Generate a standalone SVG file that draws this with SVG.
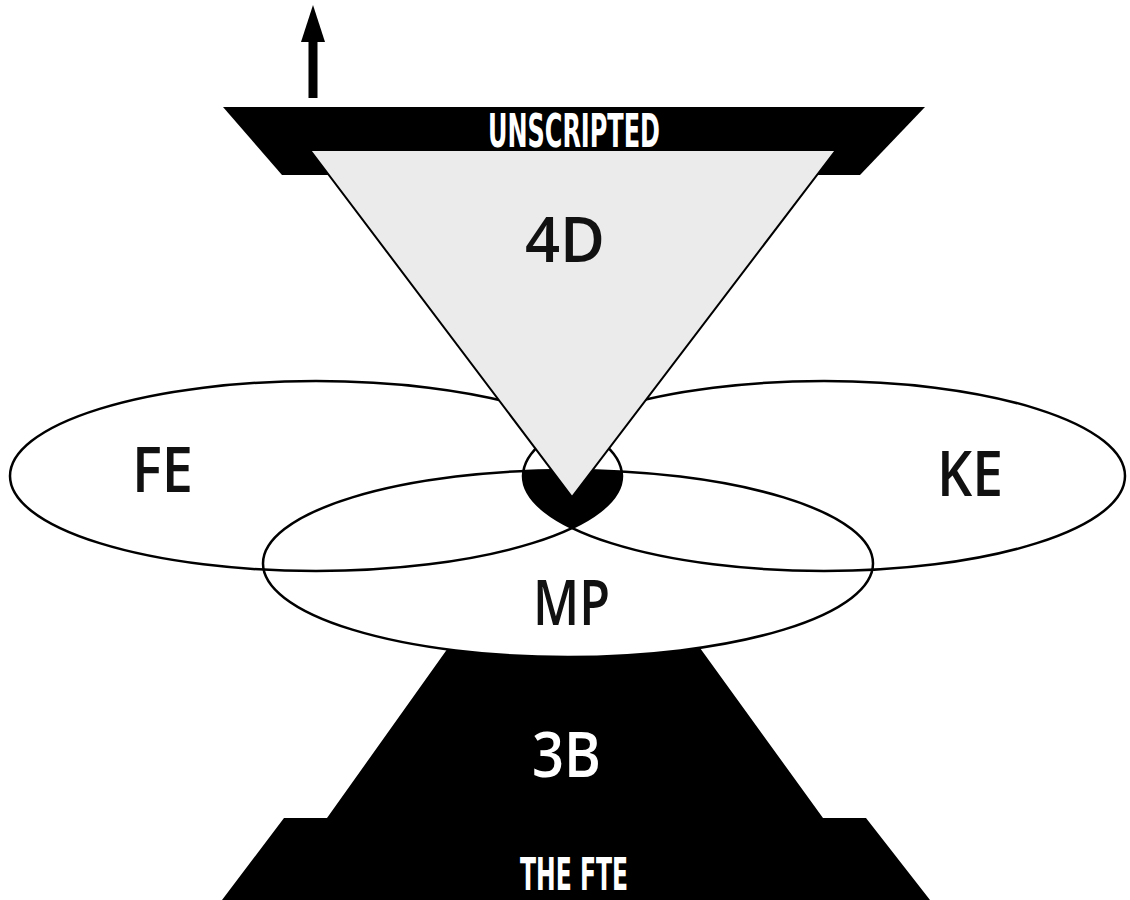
<svg xmlns="http://www.w3.org/2000/svg" width="1130" height="900" viewBox="0 0 1130 900">
<style>
.lbl{font-family:"Open Sans","Lato","Noto Sans",sans-serif;font-weight:600;font-size:64px;fill:#111;text-anchor:middle}
.cond{font-family:"Liberation Sans Narrow","DejaVu Sans Condensed","Roboto",sans-serif;font-weight:bold;font-stretch:condensed;fill:#fff;text-anchor:middle}
.ring{fill:none;stroke:#000;stroke-width:2.5}
</style>
<defs>
<clipPath id="cFE"><ellipse cx="316" cy="476" rx="306" ry="95"/></clipPath>
<clipPath id="cMP"><ellipse cx="568" cy="563.5" rx="305" ry="93.5"/></clipPath>
</defs>
<rect width="1130" height="900" fill="#fff"/>
<g id="the-fte">
<polygon points="448,648 700,648 823,818 866,818 930,900 222,900 284,818 327,818" fill="#000"/>
</g>
<ellipse cx="568" cy="563.5" rx="305" ry="93.5" fill="#fff"/>
<g id="fe"><ellipse class="ring" cx="316" cy="476" rx="306" ry="95"/><text class="lbl" x="162.5" y="492" textLength="61" lengthAdjust="spacingAndGlyphs">FE</text></g>
<g id="ke"><ellipse class="ring" cx="824" cy="476" rx="301" ry="95"/><text class="lbl" x="970" y="496" textLength="66" lengthAdjust="spacingAndGlyphs">KE</text></g>
<g id="mp"><ellipse class="ring" cx="568" cy="563.5" rx="305" ry="93.5"/><text class="lbl" x="571.5" y="625" textLength="77" lengthAdjust="spacingAndGlyphs">MP</text></g>
<g id="core" clip-path="url(#cFE)"><ellipse cx="824" cy="476" rx="301" ry="95" fill="#000" clip-path="url(#cMP)"/></g>
<g id="unscripted">
<polygon points="223,107 925,107 860,175 282,175" fill="#000"/>
<text class="cond" x="574" y="147" font-size="47" textLength="172" lengthAdjust="spacingAndGlyphs">UNSCRIPTED</text>
</g>
<g id="4d">
<polygon points="310,150 836,150 572,497" fill="#ebebeb" stroke="#000" stroke-width="2" stroke-linejoin="miter"/>
<text class="lbl" x="565" y="262" textLength="80" lengthAdjust="spacingAndGlyphs">4D</text>
</g>
<g id="3b"><text class="lbl" x="566.5" y="777" font-size="62" style="fill:#fff" textLength="69" lengthAdjust="spacingAndGlyphs">3B</text>
<text class="cond" x="574" y="890" font-size="45" textLength="108" lengthAdjust="spacingAndGlyphs">THE FTE</text></g>
<g id="connectors">
<rect x="308.5" y="38" width="9" height="60" fill="#000"/>
<polygon points="313,5 325,42 301,42" fill="#000"/>
</g>
</svg>
